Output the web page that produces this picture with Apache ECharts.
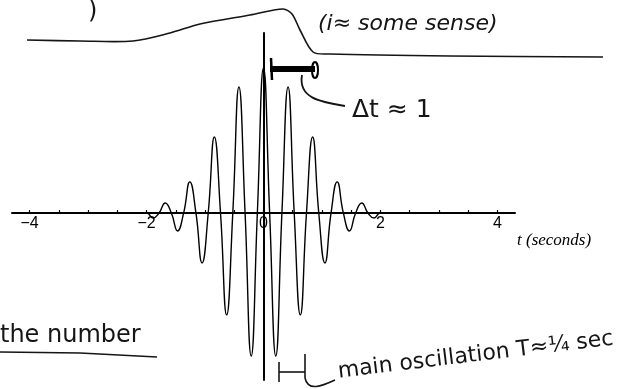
<!DOCTYPE html>
<html><head><meta charset="utf-8">
<script src="https://cdn.jsdelivr.net/npm/echarts@6/dist/echarts.min.js"></script>
<style>html,body{margin:0;padding:0;background:#fff}#c{width:641px;height:389px}</style>
</head><body><div id="c"></div>
<script>
// time (seconds) and signal amplitude (normalized, central peak = 1)
const tValues = [-2.3, -2.0, -1.89, -1.785, -1.68, -1.575, -1.47, -1.365, -1.26, -1.155, -1.05, -0.945, -0.84, -0.735, -0.63, -0.525, -0.42, -0.315, -0.21, -0.105, 0, 0.105, 0.21, 0.315, 0.42, 0.525, 0.63, 0.735, 0.84, 0.945, 1.05, 1.155, 1.26, 1.365, 1.47, 1.575, 1.68, 1.785, 1.89, 2.0, 2.3];
const signalValues = [0, 0, -0.035, 0, 0.069, 0, -0.124, 0, 0.214, 0, -0.345, 0, 0.524, 0, -0.703, 0, 0.869, 0, -0.986, 0, 1.0, 0, -0.986, 0, 0.869, 0, -0.703, 0, 0.524, 0, -0.345, 0, 0.214, 0, -0.124, 0, 0.069, 0, -0.035, 0, 0];
const tickValues = [-4, -3.5, -3, -2.5, -2, -1.5, -1, -0.5, 0, 0.5, 1, 1.5, 2, 2.5, 3, 3.5, 4];
const labelValues = [-4, -2, 0, 2, 4];

const chart = echarts.init(document.getElementById('c'), null, {renderer: 'canvas'});
const hand = '#151515';
chart.setOption({
  animation: false,
  backgroundColor: '#fff',
  grid: {left: 12, right: 126, top: 33, bottom: 9},
  xAxis: {
    type: 'value', min: -4.3, max: 4.3, position: 'bottom', offset: -167,
    axisLine: {onZero: false, lineStyle: {color: '#000', width: 2}},
    axisTick: {show: true, inside: true, length: 3, customValues: tickValues, lineStyle: {color: '#000', width: 1.2}},
    axisLabel: {customValues: labelValues, color: '#000', fontFamily: 'Liberation Sans', fontSize: 16, margin: 3,
      formatter: v => v < 0 ? '\u2212' + Math.abs(v) : String(v)},
    splitLine: {show: false}
  },
  yAxis: {
    type: 'value', min: -1.152, max: 1.241,
    axisLine: {show: true, onZero: true, lineStyle: {color: '#000', width: 2}},
    axisTick: {show: false}, axisLabel: {show: false}, splitLine: {show: false}
  },
  series: [{
    type: 'line',
    data: tValues.map((t, i) => [t, signalValues[i]]),
    smooth: 0.5,
    showSymbol: false,
    lineStyle: {color: '#000', width: 1.4}
  }],
  graphic: [
    {type: 'polyline', shape: {points: [[27,40],[80,41],[133,41],[170,33],[200,24],[250,15],[283,9],[292,14],[300,30],[313,52],[330,54],[450,56],[603,57]], smooth: 0.3}, style: {stroke: hand, lineWidth: 1.6, fill: null}},
    {type: 'text', left: 88, top: 0, style: {text: ')', font: '24px DejaVu Sans', fill: hand}},
    {type: 'text', x: 318, y: 24, style: {text: '(i\u2248 some sense)', font: 'italic 22px DejaVu Sans', fill: hand, verticalAlign: 'middle'}},
    {type: 'rect', shape: {x: 270, y: 66, width: 45, height: 6}, style: {fill: '#000'}},
    {type: 'line', shape: {x1: 271, y1: 58, x2: 272, y2: 80}, style: {stroke: '#000', lineWidth: 2.5}},
    {type: 'ellipse', shape: {cx: 315, cy: 70, rx: 3, ry: 8}, style: {stroke: '#000', lineWidth: 2, fill: null}},
    {type: 'bezierCurve', shape: {x1: 302, y1: 75, cpx1: 298, cpy1: 98, cpx2: 320, cpy2: 102, x2: 345, y2: 106}, style: {stroke: hand, lineWidth: 1.8, fill: null}},
    {type: 'text', x: 352, y: 110, style: {text: '\u0394t \u2248 1', font: '25px DejaVu Sans', fill: hand, verticalAlign: 'middle'}},
    {type: 'polyline', shape: {points: [[279,362],[279,382]]}, style: {stroke: hand, lineWidth: 1.6}},
    {type: 'polyline', shape: {points: [[279,372],[305,372]]}, style: {stroke: hand, lineWidth: 1.6}},
    {type: 'polyline', shape: {points: [[305,354],[305,378]]}, style: {stroke: hand, lineWidth: 1.6}},
    {type: 'bezierCurve', shape: {x1: 305, y1: 378, cpx1: 308, cpy1: 392, cpx2: 322, cpy2: 386, x2: 335, y2: 380}, style: {stroke: hand, lineWidth: 1.6, fill: null}},
    {type: 'text', x: 338, y: 372, rotation: 0.12, style: {text: 'main oscillation T\u2248\u00bc sec', font: '22px DejaVu Sans', fill: hand, verticalAlign: 'middle'}},
    {type: 'text', x: 0, y: 336, style: {text: 'the number', font: '24px DejaVu Sans', fill: hand, verticalAlign: 'middle'}},
    {type: 'polyline', shape: {points: [[0,352],[80,353],[157,357]]}, style: {stroke: hand, lineWidth: 1.6}},
    {type: 'text', x: 517, y: 241, style: {text: 't (seconds)', font: 'italic 17px Liberation Serif', fill: '#000', verticalAlign: 'middle'}}
  ]
});
</script></body></html>
